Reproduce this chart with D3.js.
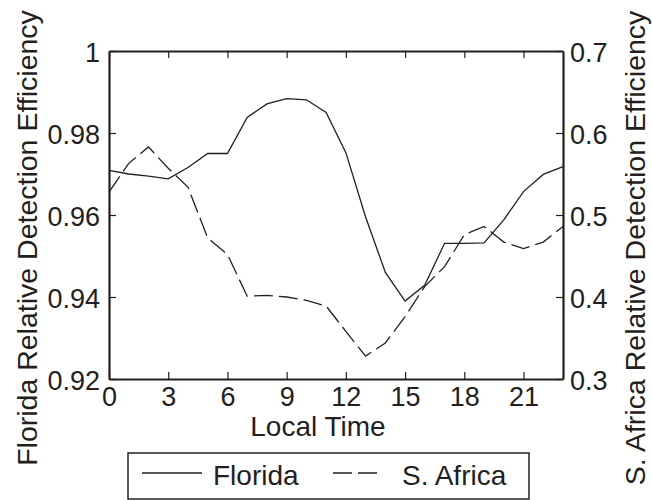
<!DOCTYPE html>
<html>
<head>
<meta charset="utf-8">
<script src="https://cdn.jsdelivr.net/npm/d3@7"></script>
<style>
  body { margin: 0; background: #fff; }
  text { font-family: "Liberation Sans", Arial, sans-serif; fill: #231f20; }
</style>
</head>
<body>
<div id="chart"></div>
<script>
// Data
const hours = d3.range(0, 24);
const florida = [0.9709, 0.9700, 0.9695, 0.9688, 0.9716, 0.9750, 0.9750, 0.9838,
                 0.9871, 0.9884, 0.9881, 0.9850, 0.9752, 0.9595, 0.9460, 0.9390,
                 0.9429, 0.9531, 0.9531, 0.9532, 0.9588, 0.9657, 0.9699, 0.9718];
const safrica = [0.528, 0.563, 0.583, 0.557, 0.534, 0.472, 0.452, 0.401,
                 0.402, 0.400, 0.396, 0.389, 0.358, 0.328, 0.344, 0.376,
                 0.413, 0.437, 0.476, 0.486, 0.467, 0.459, 0.467, 0.486];
const xTicks = [0, 3, 6, 9, 12, 15, 18, 21];
const leftTicks = [0.92, 0.94, 0.96, 0.98, 1];
const rightTicks = [0.3, 0.4, 0.5, 0.6, 0.7];

const width = 652, height = 500;
const margin = {top: 51, right: 89, bottom: 121, left: 109};
const vis_width = width - margin.left - margin.right;
const vis_height = height - margin.top - margin.bottom;
const ink = "#231f20";

const svg = d3.select("#chart").append("svg")
  .attr("width", width).attr("height", height);
svg.append("rect").attr("width", width).attr("height", height).attr("fill", "#fff");

const g = svg.append("g")
  .attr("transform", "translate(" + margin.left + "," + margin.top + ")");

const x = d3.scaleLinear().domain([0, 23]).range([0, vis_width]);
const yL = d3.scaleLinear().domain([0.92, 1]).range([vis_height, 0]);
const yR = d3.scaleLinear().domain([0.3, 0.7]).range([vis_height, 0]);

// lines
const lineF = d3.line().x((d, i) => x(hours[i])).y(d => yL(d));
const lineS = d3.line().x((d, i) => x(hours[i])).y(d => yR(d));

g.append("path").datum(florida)
  .attr("d", lineF).attr("fill", "none")
  .attr("stroke", ink).attr("stroke-width", 1.3);

g.append("path").datum(safrica)
  .attr("d", lineS).attr("fill", "none")
  .attr("stroke", ink).attr("stroke-width", 1.3)
  .attr("stroke-dasharray", "19,6");

// axes (ticks pointing inward)
const fs = "27px";
const bottomAxis = g.append("g")
  .attr("transform", "translate(0," + vis_height + ")")
  .call(d3.axisBottom(x).tickValues(xTicks).tickSizeInner(-7).tickSizeOuter(0).tickPadding(8));
const topAxis = g.append("g")
  .call(d3.axisTop(x).tickValues(xTicks).tickSizeInner(-7).tickSizeOuter(0).tickFormat(""));
const leftAxis = g.append("g")
  .call(d3.axisLeft(yL).tickValues(leftTicks).tickSizeInner(-7).tickSizeOuter(0)
    .tickPadding(9).tickFormat(d => d === 1 ? "1" : d3.format(".2f")(d)));
const rightAxis = g.append("g")
  .attr("transform", "translate(" + vis_width + ",0)")
  .call(d3.axisRight(yR).tickValues(rightTicks).tickSizeInner(-7).tickSizeOuter(0)
    .tickPadding(7).tickFormat(d3.format(".1f")));

[bottomAxis, topAxis, leftAxis, rightAxis].forEach(a => {
  a.select(".domain").attr("stroke", ink).attr("stroke-width", 2.2);
  a.selectAll(".tick line").attr("stroke", ink).attr("stroke-width", 1.2);
  a.selectAll(".tick text").attr("font-size", fs).style("fill", ink)
   .attr("font-family", "Liberation Sans, Arial, sans-serif");
});
leftAxis.selectAll(".tick text").attr("dy", "0.38em");
rightAxis.selectAll(".tick text").attr("dy", "0.38em");

// axis titles
svg.append("text").attr("x", 318).attr("y", 436)
  .attr("text-anchor", "middle").attr("font-size", "28px").text("Local Time");
svg.append("text").attr("transform", "translate(37,238) rotate(-90)")
  .attr("text-anchor", "middle").attr("font-size", "28.5px")
  .text("Florida Relative Detection Efficiency");
svg.append("text").attr("transform", "translate(645,248) rotate(-90)")
  .attr("text-anchor", "middle").attr("font-size", "28.5px")
  .text("S. Africa Relative Detection Efficiency");

// legend
const leg = svg.append("g");
leg.append("rect").attr("x", 128).attr("y", 453).attr("width", 401).attr("height", 46)
  .attr("fill", "#fff").attr("stroke", ink).attr("stroke-width", 1.5);
leg.append("line").attr("x1", 142).attr("x2", 202).attr("y1", 473).attr("y2", 473)
  .attr("stroke", ink).attr("stroke-width", 1.3);
leg.append("text").attr("x", 213).attr("y", 485).attr("font-size", "28px").text("Florida");
leg.append("line").attr("x1", 333).attr("x2", 380).attr("y1", 473).attr("y2", 473)
  .attr("stroke", ink).attr("stroke-width", 1.3).attr("stroke-dasharray", "19,6");
leg.append("text").attr("x", 402).attr("y", 485).attr("font-size", "28px").text("S. Africa");
</script>
</body>
</html>
